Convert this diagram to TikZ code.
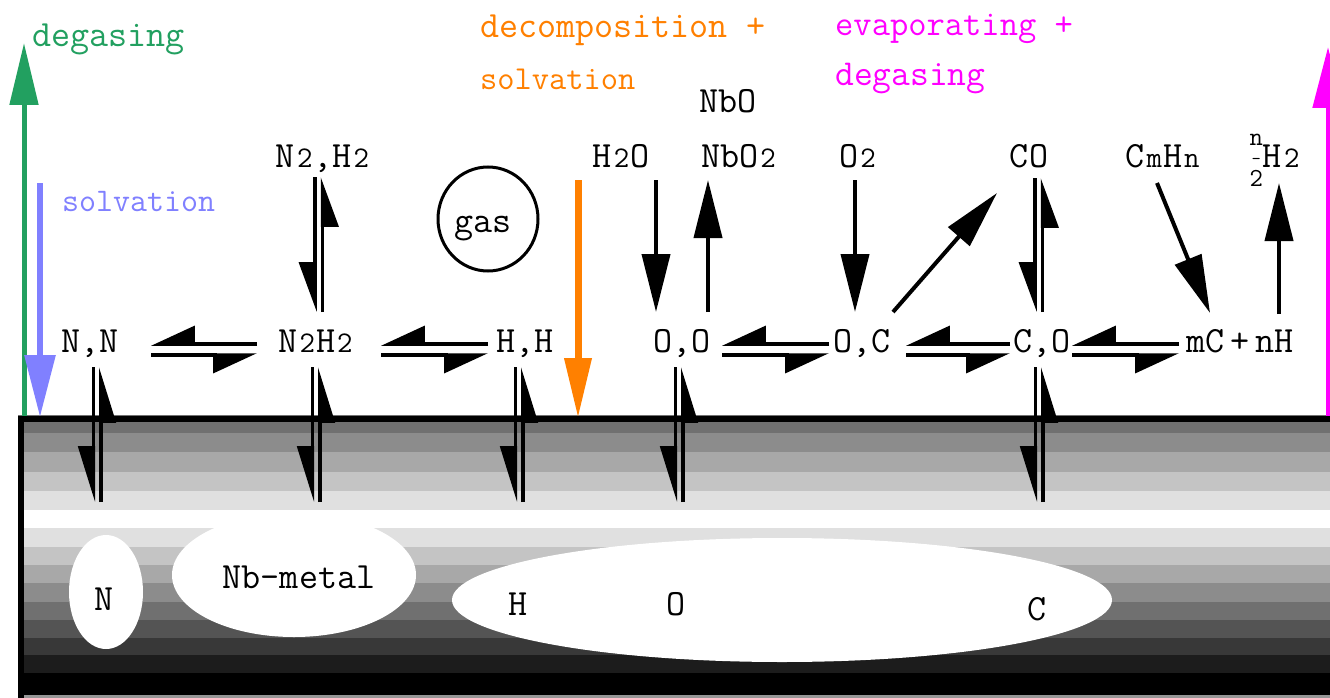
\documentclass[tikz,border=0pt]{standalone}
\usepackage{fontspec}
\usetikzlibrary{arrows.meta,calc}
\definecolor{cgreen}{RGB}{34,160,96}
\definecolor{cblue}{RGB}{128,128,255}
\definecolor{corange}{RGB}{255,128,0}
\definecolor{cmag}{RGB}{255,0,255}
\newcommand{\subd}[1]{{\fontsize{30}{30}\selectfont\kern2pt#1\kern1pt}}
\newcommand{\halfnum}{{\fontsize{26}{26}\selectfont\begin{tabular}{@{}c@{}}n\\[-7pt]{\fontsize{18}{18}\selectfont -}\\[-4pt]2\end{tabular}}}
\tikzset{
  chem/.style={font=\fontsize{37}{40}\selectfont\ttfamily, inner sep=0pt, anchor=base},
  lbl/.style={font=\fontsize{35}{40}\selectfont\ttfamily, inner sep=0pt, anchor=base west},
  hp/.style={line width=3.5pt, -{Triangle[right,length=40pt,width=36pt]}},
  vh/.style={line width=3.5pt, -{Triangle[right,length=50pt,width=30pt]}},
  gh/.style={line width=3.5pt, -{Triangle[right,length=45pt,width=32pt]}},
  full/.style={line width=4pt, -{Triangle[length=58pt,width=28pt]}},
}
\begin{document}
\begin{tikzpicture}[x=1pt,y=-1pt]
\clip (0,0) rectangle (1330,698);
\fill[white] (0,0) rectangle (1330,698);
% metal bands
\foreach \ya/\yb/\g in {415/433/112, 433/452/140, 452/472/168, 472/491/196, 491/510/224, 510/528/255, 528/547/224, 547/565/196, 565/583/168, 583/602/140, 602/620/112, 620/638/84, 638/655/56, 655/673/28, 673/695/0, 695/698/150}
  {\definecolor{bandc}{RGB}{\g,\g,\g}\fill[bandc] (18,\ya) rectangle (1330,\yb);}
% white ellipses in the metal
\fill[white] (106,592) ellipse [x radius=37, y radius=57];
\fill[white] (294,575) ellipse [x radius=122, y radius=62];
\fill[white] (782,600) ellipse [x radius=330, y radius=62];
% bulk labels
\node[chem] (bN) at (104,610) {N};
\node[chem] (bNb) at (299,588) {Nb-metal};
\node[chem] (bH) at (518,615) {H};
\node[chem] (bO) at (676,615) {O};
\node[chem] (bC) at (1037,620) {C};
% coloured labels
\node[lbl, text=cgreen, font=\fontsize{37}{40}\selectfont\ttfamily] (tdeg) at (32,47) {degasing};
\node[lbl, text=cblue, font=\fontsize{33}{40}\selectfont\ttfamily] (tsolv) at (62,211) {solvation};
\node[lbl, text=corange, font=\fontsize{37}{40}\selectfont\ttfamily] (tdec1) at (480,38) {decomposition +};
\node[lbl, text=corange, font=\fontsize{33.5}{40}\selectfont\ttfamily] (tdec2) at (480,90) {solvation};
\node[lbl, text=cmag, font=\fontsize{35.5}{40}\selectfont\ttfamily] (tev1) at (835,36) {evaporating +};
\node[lbl, text=cmag, font=\fontsize{36.5}{40}\selectfont\ttfamily] (tev2) at (835,86) {degasing};
% coloured arrows
\coordinate (g0) at (24,418); \coordinate (g1) at (24,43);
\coordinate (b0) at (40,183); \coordinate (b1) at (40,417);
\coordinate (o0) at (578,180); \coordinate (o1) at (578,418);
\coordinate (m0) at (1328,418); \coordinate (m1) at (1328,47);
\draw[cgreen, line width=5pt, -{Triangle[length=62pt,width=28pt]}] (g0) -- (g1);
\draw[cblue, line width=6pt, -{Triangle[length=62pt,width=30pt]}] (b0) -- (b1);
\draw[corange, line width=7pt, -{Triangle[length=60pt,width=26pt]}] (o0) -- (o1);
\draw[cmag, line width=5pt, -{Triangle[length=61pt,width=30pt]}] (m0) -- (m1);
% surface and left border
\draw[line width=6pt] (18,418.5) -- (1330,418.5);
\draw[line width=6pt] (21,415.5) -- (21,698);
% gas
\node[chem] (gas) at (483,232) {gas};
\draw[line width=3pt] (488,219) ellipse [x radius=50, y radius=52];
% surface row
\node[chem] (nn) at (90,352) {N,N};
\node[chem] (nh) at (316,352) {N\subd{2}H\subd{2}};
\node[chem] (hh) at (525,352) {H,H};
\node[chem] (oo) at (682,352) {O,O};
\node[chem] (oc) at (862,352) {O,C};
\node[chem] (co) at (1042,352) {C,O};
\node[chem] (mc) at (1240,352) {mC\,+\,nH};
% gas row
\node[chem] (tnh) at (323,167) {N\subd{2},H\subd{2}};
\node[chem] (th2o) at (621,167) {H\subd{2}O};
\node[chem] (tnbo) at (728,113) {NbO};
\node[chem] (tnbo2) at (739,167) {NbO\subd{2}};
\node[chem] (to2) at (858,167) {O\subd{2}};
\node[chem] (tco) at (1029,167) {CO};
\node[chem] (tcmhn) at (1163,167) {C\subd{m}H\subd{n}};
\node[chem] (th2) at (1275,167) {\halfnum H\subd{2}};
% horizontal equilibria
\draw[hp] ([xshift=-59pt,yshift=8pt]nh.base) -- ([xshift=61pt,yshift=8pt]nn.base);
\draw[hp] ([xshift=61pt,yshift=-3pt]nn.base) -- ([xshift=-59pt,yshift=-3pt]nh.base);
\draw[hp] ([xshift=-37pt,yshift=8pt]hh.base) -- ([xshift=65pt,yshift=8pt]nh.base);
\draw[hp] ([xshift=65pt,yshift=-3pt]nh.base) -- ([xshift=-37pt,yshift=-3pt]hh.base);
\draw[hp] ([xshift=-33pt,yshift=8pt]oc.base) -- ([xshift=40pt,yshift=8pt]oo.base);
\draw[hp] ([xshift=40pt,yshift=-3pt]oo.base) -- ([xshift=-33pt,yshift=-3pt]oc.base);
\draw[hp] ([xshift=-32pt,yshift=8pt]co.base) -- ([xshift=44pt,yshift=8pt]oc.base);
\draw[hp] ([xshift=44pt,yshift=-3pt]oc.base) -- ([xshift=-32pt,yshift=-3pt]co.base);
\draw[hp] ([xshift=-61pt,yshift=8pt]mc.base) -- ([xshift=30pt,yshift=8pt]co.base);
\draw[hp] ([xshift=30pt,yshift=-3pt]co.base) -- ([xshift=-61pt,yshift=-3pt]mc.base);
% surface <-> bulk
\foreach \n/\l/\r in {nn/3.25/10.75, nh/-3.75/3.75, hh/-9.75/-2.25, oo/-6.75/0.75, co/-6.75/0.75}{
  \draw[vh] ([xshift=\l pt,yshift=-15pt]\n.base) -- ([xshift=\l pt,yshift=-150pt]\n.base);
  \draw[vh] ([xshift=\r pt,yshift=-150pt]\n.base) -- ([xshift=\r pt,yshift=-15pt]\n.base);
}
% gas <-> surface equilibria
\draw[gh] ([xshift=-8pt,yshift=-10pt]tnh.base) -- ([xshift=-1pt,yshift=40pt]nh.base);
\draw[gh] ([xshift=6.5pt,yshift=40pt]nh.base) -- ([xshift=-0.5pt,yshift=-10pt]tnh.base);
\draw[gh] ([xshift=6pt,yshift=-11pt]tco.base) -- ([xshift=-7pt,yshift=40pt]co.base);
\draw[gh] ([xshift=0.5pt,yshift=40pt]co.base) -- ([xshift=13.5pt,yshift=-11pt]tco.base);
% one-way arrows
\draw[full] ([xshift=35pt,yshift=-13pt]th2o.base) -- ([xshift=-26pt,yshift=40pt]oo.base);
\draw[full] ([xshift=26pt,yshift=40pt]oo.base) -- ([xshift=-31pt,yshift=-13pt]tnbo2.base);
\draw[full] ([xshift=-3pt,yshift=-13pt]to2.base) -- ([xshift=-7pt,yshift=40pt]oc.base);
\draw[full] ([xshift=31pt,yshift=40pt]oc.base) -- ([xshift=-32pt,yshift=-26pt]tco.base);
\draw[full] ([xshift=-6pt,yshift=-16pt]tcmhn.base) -- ([xshift=-30pt,yshift=39pt]mc.base);
\draw[full] ([xshift=39pt,yshift=38pt]mc.base) -- ([xshift=4pt,yshift=-16pt]th2.base);
\end{tikzpicture}
\end{document}
